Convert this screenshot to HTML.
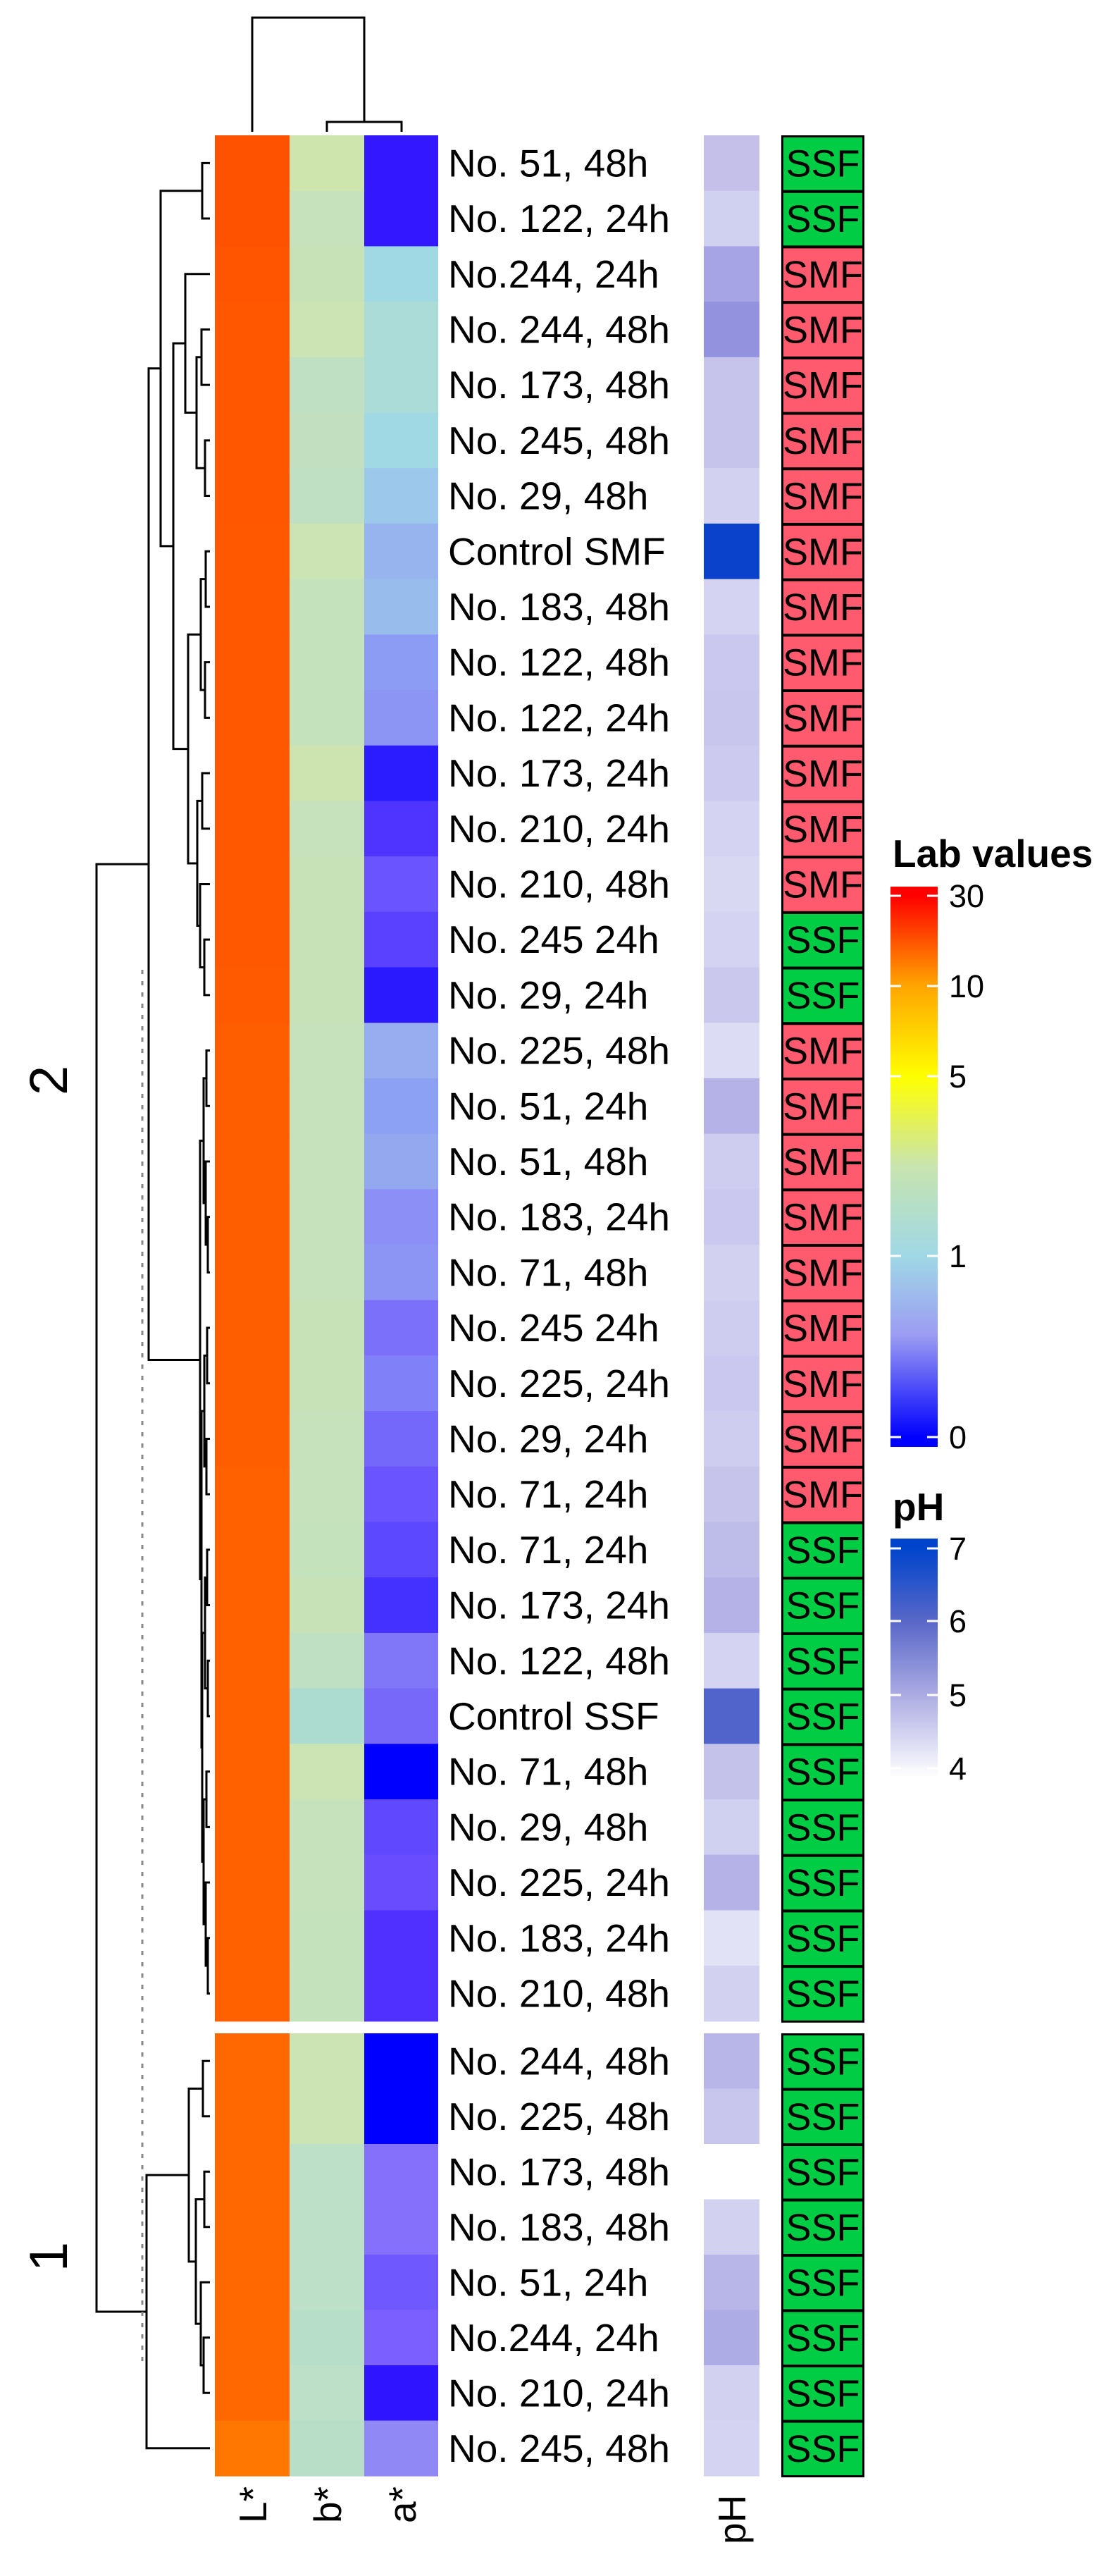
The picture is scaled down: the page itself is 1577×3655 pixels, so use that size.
<!DOCTYPE html>
<html><head><meta charset="utf-8"><style>
html,body{margin:0;padding:0;background:#fff;}
svg{display:block;font-family:"Liberation Sans",Arial,sans-serif;}
</style></head><body>
<svg id="s" width="1577" height="3655" viewBox="0 0 1577 3655" xmlns="http://www.w3.org/2000/svg">
<defs>
<linearGradient id="lab" x1="0" y1="0" x2="0" y2="1">
<stop offset="0" stop-color="#ff0000"/>
<stop offset="0.016" stop-color="#ff0000"/>
<stop offset="0.177" stop-color="#ffa500"/>
<stop offset="0.339" stop-color="#ffff00"/>
<stop offset="0.5" stop-color="#c8e4b0"/>
<stop offset="0.66" stop-color="#9fd8e6"/>
<stop offset="0.8" stop-color="#9c9cf2"/>
<stop offset="0.984" stop-color="#0000ff"/>
<stop offset="1" stop-color="#0000ff"/>
</linearGradient>
<linearGradient id="ph" x1="0" y1="0" x2="0" y2="1">
<stop offset="0" stop-color="#0044cc"/>
<stop offset="0.04" stop-color="#0044cc"/>
<stop offset="0.35" stop-color="#5a68c8"/>
<stop offset="0.65" stop-color="#aaaae2"/>
<stop offset="1" stop-color="#ffffff"/>
</linearGradient>
</defs>
<g id="g"></g>
<g stroke="#000" stroke-width="3" fill="none">
<path d="M358 187 V25 H517 V173"/>
<path d="M464 187 V173 H570 V187"/>
</g>
<text x="1267" y="1230" font-size="55" font-weight="bold">Lab values</text>
<rect x="1264" y="1258" width="67" height="795" fill="url(#lab)"/>
<g stroke="#fff" stroke-width="3">
<path d="M1264 1271h15M1316 1271h15M1264 1399h15M1316 1399h15M1264 1527h15M1316 1527h15M1264 1782h15M1316 1782h15M1264 2039h15M1316 2039h15"/>
</g>
<g font-size="45">
<text x="1347" y="1287">30</text>
<text x="1347" y="1415">10</text>
<text x="1347" y="1543">5</text>
<text x="1347" y="1798">1</text>
<text x="1347" y="2055">0</text>
</g>
<text x="1267" y="2157" font-size="55" font-weight="bold">pH</text>
<rect x="1264" y="2183" width="67" height="339" fill="url(#ph)"/>
<g stroke="#fff" stroke-width="3">
<path d="M1264 2197h15M1316 2197h15M1264 2300h15M1316 2300h15M1264 2405h15M1316 2405h15M1264 2509h15M1316 2509h15"/>
</g>
<g font-size="45">
<text x="1347" y="2213">7</text>
<text x="1347" y="2316">6</text>
<text x="1347" y="2421">5</text>
<text x="1347" y="2525">4</text>
</g>
<g font-size="55">
<text transform="translate(378,3580) rotate(-90)">L*</text>
<text transform="translate(484,3580) rotate(-90)">b*</text>
<text transform="translate(590,3580) rotate(-90)">a*</text>
<text transform="translate(1058,3610) rotate(-90)">pH</text>
</g>
<g font-size="76">
<text transform="translate(95,1533) rotate(-90)" text-anchor="middle">2</text>
<text transform="translate(95,3202) rotate(-90)" text-anchor="middle">1</text>
</g>
<line x1="202" y1="1376" x2="202" y2="3357" stroke="#888" stroke-width="3" stroke-dasharray="6 10"/>
</svg>
<script>
var rows=[
["No. 51, 48h","#ff5200","#cfe5ae","#3318ff","#c4c0ea","S"],
["No. 122, 24h","#ff5200","#c6e2bc","#3318ff","#d0d0f0","S"],
["No.244, 24h","#ff5400","#c8e2b8","#a0d8e4","#a6a4e4","M"],
["No. 244, 48h","#ff5600","#cce4b4","#acdcd8","#9292de","M"],
["No. 173, 48h","#ff5600","#c0e0c4","#acdcd8","#c6c4ea","M"],
["No. 245, 48h","#ff5600","#c2e0c0","#a0d8e4","#c6c4ea","M"],
["No. 29, 48h","#ff5600","#c0e0c4","#9cc8ec","#d2d2f0","M"],
["Control SMF","#ff5800","#cce4b4","#98b4ee","#0a42cc","M"],
["No. 183, 48h","#ff5800","#c4e2bc","#98bcec","#d4d4f2","M"],
["No. 122, 48h","#ff5800","#c4e2bc","#8c9cf4","#cac8ee","M"],
["No. 122, 24h","#ff5800","#c4e2bc","#8c94f4","#c8c6ec","M"],
["No. 173, 24h","#ff5800","#cee4b0","#2a1cff","#cccaee","M"],
["No. 210, 24h","#ff5800","#c6e2bc","#4f34ff","#d4d4f2","M"],
["No. 210, 48h","#ff5800","#c8e2b8","#6a54ff","#d8d8f2","M"],
["No. 245 24h","#ff5800","#c8e2b8","#5a40ff","#d4d4f2","S"],
["No. 29, 24h","#ff5a00","#c8e2b8","#2a18ff","#cac8ec","S"],
["No. 225, 48h","#ff5e00","#c6e2bc","#98acf0","#dcdcf4","M"],
["No. 51, 24h","#ff5e00","#c6e2bc","#8ca0f4","#b4b2e6","M"],
["No. 51, 48h","#ff5e00","#c6e2bc","#94a8f0","#cecdef","M"],
["No. 183, 24h","#ff5e00","#c6e2bc","#8c90f6","#cac8ee","M"],
["No. 71, 48h","#ff5e00","#c6e2bc","#8c94f4","#d2d2f0","M"],
["No. 245 24h","#ff5e00","#c8e2b8","#7a70fa","#cecdef","M"],
["No. 225, 24h","#ff5e00","#c8e2b8","#8080f8","#cac8ee","M"],
["No. 29, 24h","#ff5e00","#c6e2bc","#7468fa","#cecdef","M"],
["No. 71, 24h","#ff6000","#c6e2bc","#6a54ff","#c6c4ea","M"],
["No. 71, 24h","#ff6000","#c4e2bc","#5c48ff","#bebce8","S"],
["No. 173, 24h","#ff6000","#c8e2b8","#4430ff","#b4b2e6","S"],
["No. 122, 48h","#ff6000","#c0e0c4","#8076f8","#d4d4f2","S"],
["Control SSF","#ff6000","#acdcd0","#7868fa","#5064cc","S"],
["No. 71, 48h","#ff6000","#cce4b4","#0000ff","#c4c2ea","S"],
["No. 29, 48h","#ff6000","#c6e2bc","#6048ff","#d0d0f0","S"],
["No. 225, 24h","#ff6000","#c6e2bc","#6a4cff","#b4b2e6","S"],
["No. 183, 24h","#ff6000","#c4e2bc","#5030ff","#e2e2f6","S"],
["No. 210, 48h","#ff6000","#c4e2bc","#5030ff","#d2d2f0","S"],
["No. 244, 48h","#ff6800","#cce4b4","#0000ff","#b8b6e8","S"],
["No. 225, 48h","#ff6800","#cce4b4","#0000ff","#c8c6ec","S"],
["No. 173, 48h","#ff6800","#bce0c8","#8470fa","#ffffff","S"],
["No. 183, 48h","#ff6800","#bce0c8","#8470fa","#d2d2f0","S"],
["No. 51, 24h","#ff6800","#bce0c8","#7058ff","#b8b6e8","S"],
["No.244, 24h","#ff6800","#b6dec8","#7c60ff","#aeace4","S"],
["No. 210, 24h","#ff6800","#bce0c8","#2e14ff","#d2d2f0","S"],
["No. 245, 48h","#ff7600","#b8dec8","#9088f4","#d4d4f2","S"]
];
function yt(i){return i<34?192+78.7*i:2885+78.5*(i-34);}
function hh(i){return i<34?78.7:78.5;}
var h=[];
for(var i=0;i<rows.length;i++){
 var r=rows[i],y=yt(i),H=hh(i);
 h.push('<rect x="305" y="'+y+'" width="107" height="'+(H+0.6)+'" fill="'+r[1]+'"/>');
 h.push('<rect x="411" y="'+y+'" width="107" height="'+(H+0.6)+'" fill="'+r[2]+'"/>');
 h.push('<rect x="517" y="'+y+'" width="105" height="'+(H+0.6)+'" fill="'+r[3]+'"/>');
 h.push('<rect x="999" y="'+y+'" width="79" height="'+(H+0.6)+'" fill="'+r[4]+'"/>');
 var s=r[5]=="S";
 h.push('<rect x="1110.5" y="'+(y+1.5)+'" width="115" height="'+(H-1)+'" fill="'+(s?'#00cc44':'#ff5a6e')+'" stroke="#000" stroke-width="3"/>');
 h.push('<text x="1168" y="'+(y+H/2+19)+'" font-size="54" text-anchor="middle">'+(s?'SSF':'SMF')+'</text>');
 h.push('<text x="636" y="'+(y+H/2+19)+'" font-size="55">'+r[0]+'</text>');
}
function N(x,c){return {x:x,c:c};}
var T2=N(211,[N(228,[N(287,[0,1]),N(246,[N(263,[2,N(279,[N(286,[3,4]),N(291,[5,6])])]),N(267,[N(285,[N(292,[7,8]),N(291,[9,10])]),N(280,[N(287,[11,12]),N(284,[13,N(290,[14,15])])])])])]),
 N(284,[N(289,[N(293,[16,17]),N(292,[18,N(295,[19,20])])]),N(286,[N(290,[N(294,[21,22]),N(293,[23,24])]),N(287,[N(291,[N(294,[25,26]),N(295,[27,28])]),N(289,[N(293,[29,30]),N(292,[31,N(295,[32,33])])])])])])]);
var T1=N(208,[N(268,[N(288,[34,35]),N(278,[N(290,[36,37]),N(285,[38,N(289,[39,40])])])]),41]);
var R=N(137,[T2,T1]);
var p=[];
function lay(n){
 if(typeof n=="number"){return {x:298,y:yt(n)+hh(n)/2};}
 var a=lay(n.c[0]),b=lay(n.c[1]);
 p.push('M'+a.x+' '+a.y+'H'+n.x+'V'+b.y+'H'+b.x);
 return {x:n.x,y:(a.y+b.y)/2};
}
lay(R);
h.push('<path d="'+p.join('')+'" stroke="#000" stroke-width="3" fill="none"/>');
document.getElementById('g').innerHTML=h.join('');
</script>
</body></html>
